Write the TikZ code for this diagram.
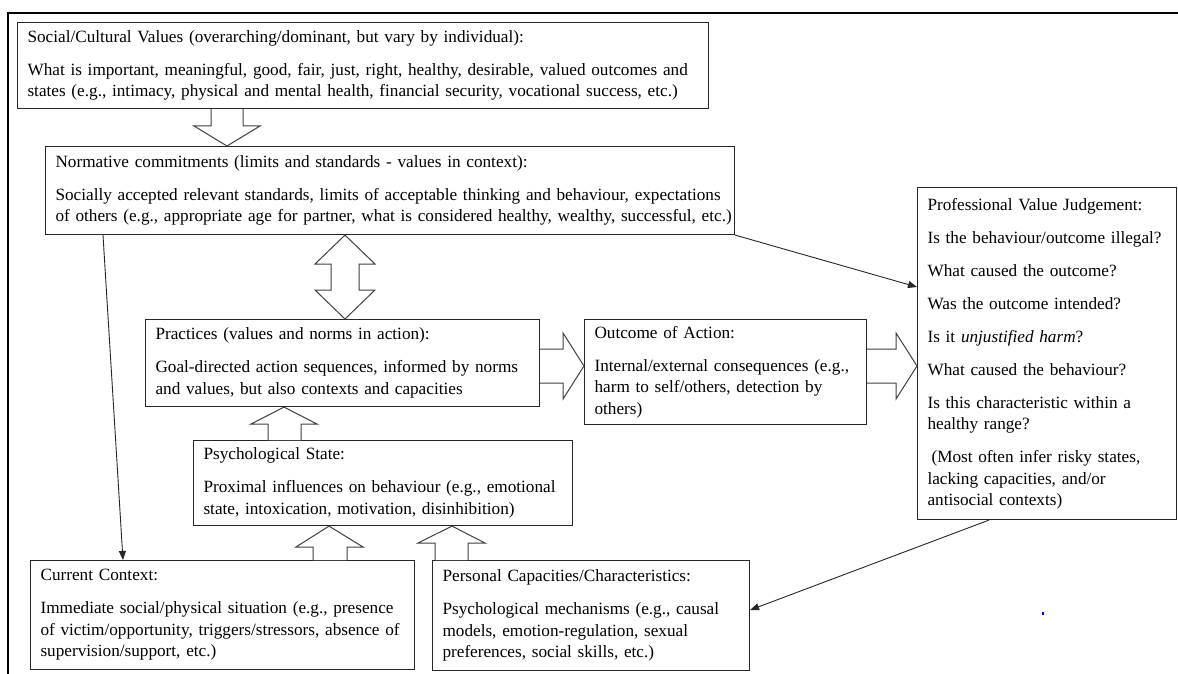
\documentclass[tikz,border=0pt]{standalone}
\usepackage{fontspec}
\setmainfont{Liberation Serif}
\usetikzlibrary{arrows.meta}
\pgfdeclarelayer{bg}
\pgfsetlayers{bg,main}
\newcommand\diagfont{\fontsize{17.2}{21.5}\selectfont}
\newcommand\pgap{\\[11.5pt]}
\tikzset{
  box/.style={draw=black!85, line width=1.1pt, fill=white, anchor=north west,
    align=left, inner xsep=10pt, inner ysep=0pt, font=\diagfont},
  barrow/.style={draw=black!75, line width=1pt, fill=white, line join=miter},
  conn/.style={draw=black!85, line width=0.9pt, -{Triangle[length=9pt,width=7pt]}},
  frameline/.style={draw=black, line width=2pt}
}
\begin{document}
\begin{tikzpicture}[x=1pt, y=-1pt]
\useasboundingbox (0,0) rectangle (1178,674);
\fill[white] (0,0) rectangle (1178,674);

% page frame (top and left edges)
\draw[frameline] (8,674) -- (8,13) -- (1178,13);

% boxes
\node[box, text width=671pt, minimum height=86pt] (scv) at (17,22)
  {Social/Cultural Values (overarching/dominant, but vary by individual):\pgap
   \mbox{What is important, meaningful, good, fair, just, right, healthy, desirable, valued outcomes and}\\
   \mbox{states (e.g., intimacy, physical and mental health, financial security, vocational success, etc.)}};

\node[box, text width=669pt, minimum height=88pt] (norm) at (45,146)
  {Normative commitments (limits and standards - values in context):\pgap
   \mbox{Socially accepted relevant standards, limits of acceptable thinking and behaviour, expectations}\\
   \mbox{of others (e.g., appropriate age for partner, what is considered healthy, wealthy, successful, etc.)}};

\node[box, text width=374pt, minimum height=87pt] (prac) at (145,319)
  {Practices (values and norms in action):\pgap
   Goal-directed action sequences, informed by norms\\
   and values, but also contexts and capacities};

\node[box, text width=262pt, minimum height=105pt] (out) at (584,319)
  {Outcome of Action:\pgap
   Internal/external consequences (e.g.,\\
   harm to self/others, detection by\\
   others)};

\node[box, text width=239pt, minimum height=332pt] (pvj) at (917,187)
  {Professional Value Judgement:\pgap
   Is the behaviour/outcome illegal?\pgap
   What caused the outcome?\pgap
   Was the outcome intended?\pgap
   Is it \textit{unjustified harm}?\pgap
   What caused the behaviour?\pgap
   Is this characteristic within a\\
   healthy range?\pgap
   \hspace*{4pt}(Most often infer risky states,\\
   lacking capacities, and/or\\
   antisocial contexts)};

\node[box, text width=359pt, minimum height=85pt] (psy) at (193,440)
  {Psychological State:\pgap
   Proximal influences on behaviour (e.g., emotional\\
   state, intoxication, motivation, disinhibition)};

\node[box, text width=364pt, minimum height=109pt] (ctx) at (30,560)
  {Current Context:\pgap
   \mbox{Immediate social/physical situation (e.g., presence}\\
   \mbox{of victim/opportunity, triggers/stressors, absence of}\\
   supervision/support, etc.)};

\node[box, text width=297pt, minimum height=110pt] (per) at (432,560)
  {Personal Capacities/Characteristics:\pgap
   Psychological mechanisms (e.g., causal\\
   models, emotion-regulation, sexual\\
   preferences, social skills, etc.)};

% norms feed personal capacities, passing behind the middle boxes
\begin{pgfonlayer}{bg}
  \draw[conn] (norm.south -| 519,0) -- (per.north -| 535,0);
\end{pgfonlayer}

% thin connectors
\draw[conn] (norm.south -| 103,0) -- (ctx.north -| 123,0);
\draw[conn] (norm.south east) -- (pvj.west |- 0,287);
\draw[conn] (pvj.south -| 989,0) -- (per.east |- 0,610);

% block arrows
\draw[barrow] (211,0 |- scv.south) -- (211,126) -- (194,126) -- (227,0 |- norm.north)
  -- (260,126) -- (243,126) -- (243,0 |- scv.south);

\draw[barrow] (345,0 |- norm.south) -- (375,264) -- (359,264) -- (359,290) -- (375,290)
  -- (345,0 |- prac.north) -- (315,290) -- (331,290) -- (331,264) -- (315,264) -- cycle;

\draw[barrow] (prac.east |- 0,349) -- (563,349) -- (563,333) -- (out.west |- 0,366)
  -- (563,399) -- (563,383) -- (prac.east |- 0,383);

\draw[barrow] (out.east |- 0,349) -- (896,349) -- (896,333) -- (pvj.west |- 0,366)
  -- (896,399) -- (896,383) -- (out.east |- 0,383);

\draw[barrow] (268,0 |- psy.north) -- (268,424) -- (251,424) -- (284,0 |- prac.south)
  -- (317,424) -- (301,424) -- (301,0 |- psy.north);

\draw[barrow] (313,0 |- ctx.north) -- (313,547) -- (296,547) -- (329,0 |- psy.south)
  -- (363,547) -- (347,547) -- (347,0 |- ctx.north);

\draw[barrow] (435,0 |- per.north) -- (435,543) -- (418,543) -- (452,0 |- psy.south)
  -- (485,543) -- (468,543) -- (468,0 |- per.north);

% stray blue mark
\fill[blue] (1042,612) rectangle (1044,615);
\end{tikzpicture}
\end{document}
